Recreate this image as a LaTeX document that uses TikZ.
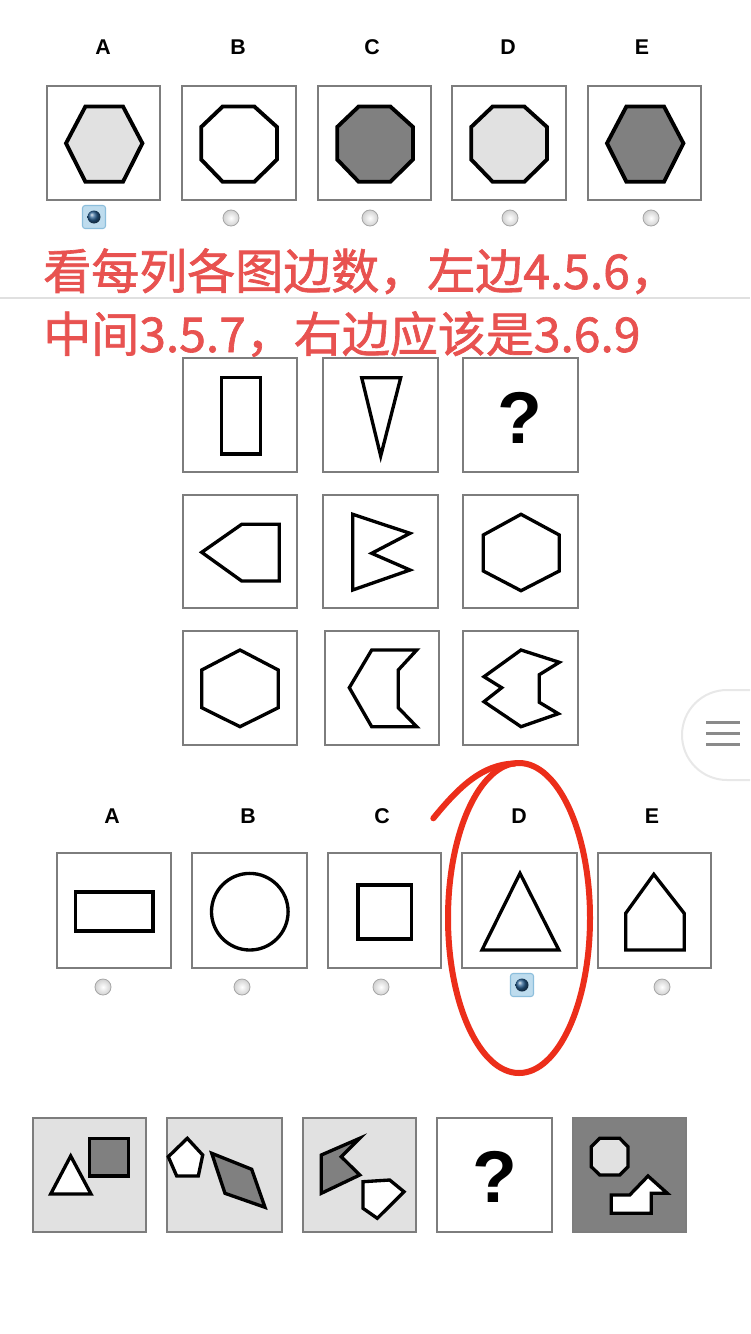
\documentclass[tikz,border=0pt]{standalone}
\usepackage{fontspec}
\setmainfont{Liberation Sans}
\newfontfamily\cjkfont[FakeBold=1.4]{Noto Sans CJK SC}
\definecolor{boxgray}{RGB}{125,125,125}
\definecolor{lightfill}{RGB}{225,225,225}
\definecolor{darkfill}{RGB}{128,128,128}
\definecolor{notered}{RGB}{232,82,80}
\definecolor{inkred}{RGB}{236,46,26}
\definecolor{selbg}{RGB}{190,220,238}
\definecolor{selbd}{RGB}{140,190,220}
\definecolor{selblue}{RGB}{40,95,145}
\definecolor{menugray}{RGB}{138,138,138}
\newcommand\radiooff[2]{\begin{scope}[shift={(#1,#2)}]\shadedraw[draw=black!35, line width=0.6pt, inner color=white, outer color=black!18] (0,0) circle[radius=8];\end{scope}}
\newcommand\radioon[2]{\begin{scope}[shift={(#1,#2)}]\draw[selbd, fill=selbg, line width=0.8pt, rounded corners=2pt] (-11.5,-11.5) rectangle (11.5,11.5); \shade[ball color=selblue] (0,0) circle[radius=6.5];\end{scope}}
\newcommand\tophex[2]{\begin{scope}[shift={(#1,86)}]\draw[shp, fill=#2] (38.4,20.5) -- (76,20.5) -- (95.4,57.3) -- (76,95.8) -- (38.4,95.8) -- (19,57.3) -- cycle;\end{scope}}
\newcommand\topoct[2]{\begin{scope}[shift={(#1,86)}]\draw[shp, fill=#2] (40.7,20.5) -- (72.3,20.5) -- (95,41) -- (95,73.5) -- (72.3,95.8) -- (40.7,95.8) -- (19.2,73.5) -- (19.2,41) -- cycle;\end{scope}}
\begin{document}
\begin{tikzpicture}[x=0.75pt,y=-0.75pt,
  box/.style={draw=boxgray,line width=1.4pt},
  shp/.style={draw=black,line width=2.9pt,line join=miter},
  thin shp/.style={draw=black,line width=2.5pt,line join=miter},
  lbl/.style={font=\bfseries\fontsize{16}{18}\selectfont, anchor=base, inner sep=0},
  qm/.style={font=\bfseries\fontsize{55}{60}\selectfont, anchor=base, inner sep=0},
  note/.style={font=\cjkfont\fontsize{36}{40}\selectfont, text=notered, anchor=base west, inner sep=0}]
\useasboundingbox (0,0) rectangle (750,1334);
\fill[white] (0,0) rectangle (750,1334);
\clip (0,0) rectangle (750,1334);

% ---------- top answer row ----------
\node[lbl] (la1) at (103,55) {A};
\node[lbl] (lb1) at (238,55) {B};
\node[lbl] (lc1) at (372,55) {C};
\node[lbl] (ld1) at (508,55) {D};
\node[lbl] (le1) at (642,55) {E};
\draw[box] (47,86) rectangle (160,200);
\draw[box] (182,86) rectangle (296,200);
\draw[box] (318,86) rectangle (431,200);
\draw[box] (452,86) rectangle (566,200);
\draw[box] (588,86) rectangle (701,200);
\tophex{47}{lightfill}
\topoct{182}{white}
\topoct{318}{darkfill}
\topoct{452}{lightfill}
\tophex{588}{darkfill}
\radioon{94}{217}
\radiooff{231}{218}
\radiooff{370}{218}
\radiooff{510}{218}
\radiooff{651}{218}

% divider
\draw[black!12, line width=1pt] (0,298) -- (750,298);

% red note
\node[note] (note1) at (43,289) {看每列各图边数，左边4.5.6，};
\node[note] (note2) at (43,352) {中间3.5.7，右边应该是3.6.9};

% ---------- 3x3 grid ----------
\draw[box] (183,358) rectangle (297,472);
\draw[box] (323,358) rectangle (438,472);
\draw[box] (463,358) rectangle (578,472);
\draw[box] (183,495) rectangle (297,608);
\draw[box] (323,495) rectangle (438,608);
\draw[box] (463,495) rectangle (578,608);
\draw[box] (183,631) rectangle (297,745);
\draw[box] (325,631) rectangle (439,745);
\draw[box] (463,631) rectangle (578,745);

\draw[thin shp] (221.7,377.7) rectangle (260.7,454);
\draw[thin shp] (361.7,377.7) -- (400.7,377.7) -- (380.7,456) -- cycle;
\node[qm] (q1) at (520,443) {?};

\draw[thin shp] (201.7,552.3) -- (241.7,524.3) -- (279.3,524.3) -- (279.3,581) -- (241.7,581) -- cycle;
\draw[thin shp] (352.7,514.3) -- (410,533.3) -- (371.7,553.3) -- (410,570) -- (352.7,590) -- cycle;
\draw[thin shp] (521,514.3) -- (559.3,535) -- (559.3,571) -- (521,590.7) -- (483.3,571) -- (483.3,535) -- cycle;

\draw[thin shp] (240,650) -- (278.3,670) -- (278.3,707.7) -- (240,726.7) -- (201.7,707.7) -- (201.7,670) -- cycle;
\draw[thin shp] (371.7,650) -- (416.7,650) -- (398.3,670) -- (398.3,707.7) -- (416.7,726.7) -- (371.7,726.7) -- (349.3,687.7) -- cycle;
\draw[thin shp] (521,650) -- (559.3,662.3) -- (539.3,674.7) -- (539.3,702.3) -- (558.3,713.7) -- (521,726.7) -- (484,701.7) -- (501.7,687.7) -- (484,676.7) -- cycle;

% menu button
\draw[black!9, line width=1.5pt, fill=white, rounded corners=33.75pt] (682,690) rectangle (820,780);
\draw[menugray, line width=2pt] (706,722.5) -- (740,722.5);
\draw[menugray, line width=2pt] (706,733.5) -- (740,733.5);
\draw[menugray, line width=2pt] (706,744.5) -- (740,744.5);

% ---------- lower answer row ----------
\node[lbl] (la2) at (112,823) {A};
\node[lbl] (lb2) at (248,823) {B};
\node[lbl] (lc2) at (382,823) {C};
\node[lbl] (ld2) at (519,823) {D};
\node[lbl] (le2) at (652,823) {E};
\draw[box] (57,853) rectangle (171,968);
\draw[box] (192,853) rectangle (307,968);
\draw[box] (328,853) rectangle (441,968);
\draw[box] (462,853) rectangle (577,968);
\draw[box] (598,853) rectangle (711,968);
\draw[thin shp] (75.7,892) rectangle (153,931);
\draw[thin shp] (249.8,911.7) circle[radius=38.3];
\draw[thin shp] (358,885) rectangle (411.4,939);
\draw[thin shp] (520,873.3) -- (558.8,950) -- (482,950) -- cycle;
\draw[thin shp] (653.8,874.3) -- (684.2,913.3) -- (684.2,950) -- (625.7,950) -- (625.7,913.3) -- cycle;
\radiooff{103}{987}
\radiooff{242}{987}
\radiooff{381}{987}
\radioon{522}{985}
\radiooff{662}{987}

% red hand-drawn loop
\draw[inkred, line width=4.5pt, line cap=round] (519,918) ellipse [x radius=71, y radius=155];
\draw[inkred, line width=4.5pt, line cap=round] (433.3,818.3) .. controls (458,788) and (482,764) .. (515,763.5);

% ---------- bottom row ----------
\draw[box, fill=lightfill] (33,1118) rectangle (146,1232);
\draw[box, fill=lightfill] (167,1118) rectangle (282,1232);
\draw[box, fill=lightfill] (303,1118) rectangle (416,1232);
\draw[box, fill=white] (437,1118) rectangle (552,1232);
\draw[box, fill=darkfill] (573,1118) rectangle (686,1232);

\draw[thin shp, fill=white] (70.7,1156) -- (91,1194) -- (50.7,1194) -- cycle;
\draw[thin shp, fill=darkfill] (89.3,1138.3) rectangle (128.3,1176);

\draw[thin shp, fill=white] (187.3,1138.3) -- (202.7,1155) -- (198.3,1176) -- (176.7,1176) -- (168.3,1156.7) -- cycle;
\draw[thin shp, fill=darkfill] (211.7,1153.3) -- (251.7,1169.3) -- (265,1207.3) -- (225,1193.3) -- cycle;

\draw[thin shp, fill=darkfill] (321.3,1155) -- (359.7,1138.3) -- (341.3,1156.7) -- (359.7,1175) -- (321.3,1193.3) -- cycle;
\draw[thin shp, fill=white] (363,1181.7) -- (389.7,1180) -- (404,1191.7) -- (377.3,1218.3) -- (363,1208.3) -- cycle;

\node[qm] (q2) at (495,1202) {?};

\draw[thin shp, fill=lightfill] (599.7,1138.3) -- (619.7,1138.3) -- (628,1146.7) -- (628,1166.7) -- (619.7,1175) -- (599.7,1175) -- (591.3,1166.7) -- (591.3,1146.7) -- cycle;
\draw[thin shp, fill=white] (611.3,1195) -- (629.7,1195) -- (648,1176) -- (667.3,1193.3) -- (651.3,1193.3) -- (651.3,1213.3) -- (611.3,1213.3) -- cycle;
\end{tikzpicture}
\end{document}
